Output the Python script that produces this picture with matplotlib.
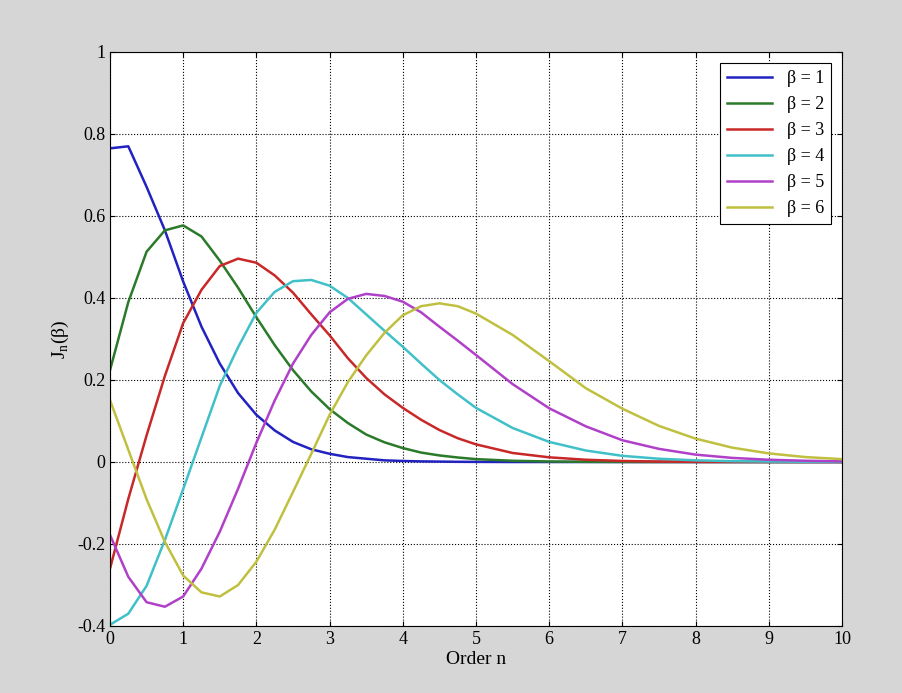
import numpy as np
import matplotlib.pyplot as plt

plt.rcParams['font.family'] = ['Liberation Serif', 'DejaVu Serif']

n = [0, 0.25, 0.5, 0.75, 1, 1.25, 1.5, 1.75, 2, 2.25, 2.5, 2.75, 3, 3.25, 3.5, 3.75, 4, 4.25, 4.5, 4.75, 5,
     5.5, 6, 6.5, 7, 7.5, 8, 8.5, 9, 9.5, 10]
j1 = [0.765, 0.770, 0.671, 0.565, 0.440, 0.330, 0.240, 0.168, 0.115, 0.077, 0.049, 0.031, 0.020, 0.012, 0.008, 0.004, 0.0025, 0.0015, 0.001, 0.0005, 0.0003,
      0, 0, 0, 0, 0, 0, 0, 0, 0, 0]
j2 = [0.224, 0.390, 0.513, 0.565, 0.577, 0.550, 0.491, 0.425, 0.353, 0.285, 0.224, 0.172, 0.129, 0.095, 0.067, 0.048, 0.034, 0.023, 0.016, 0.011, 0.007,
      0.003, 0.0012, 0.0005, 0.0002, 0, 0, 0, 0, 0, 0]
j3 = [-0.260, -0.090, 0.065, 0.210, 0.339, 0.420, 0.478, 0.496, 0.486, 0.455, 0.413, 0.360, 0.309, 0.253, 0.205, 0.165, 0.132, 0.103, 0.078, 0.058, 0.043,
      0.022, 0.0114, 0.0055, 0.0025, 0.001, 0.0004, 0.0002, 0.0001, 0, 0]
j4 = [-0.397, -0.370, -0.302, -0.190, -0.066, 0.060, 0.186, 0.280, 0.364, 0.415, 0.441, 0.444, 0.430, 0.400, 0.360, 0.320, 0.281, 0.240, 0.200, 0.165, 0.132,
      0.083, 0.049, 0.028, 0.015, 0.008, 0.004, 0.002, 0.001, 0.0005, 0.0002]
j5 = [-0.178, -0.280, -0.342, -0.353, -0.328, -0.260, -0.170, -0.065, 0.047, 0.150, 0.240, 0.310, 0.365, 0.398, 0.410, 0.405, 0.391, 0.365, 0.330, 0.296, 0.261,
      0.190, 0.131, 0.087, 0.053, 0.032, 0.018, 0.010, 0.0055, 0.003, 0.0015]
j6 = [0.151, 0.030, -0.091, -0.195, -0.277, -0.318, -0.328, -0.300, -0.243, -0.165, -0.073, 0.020, 0.115, 0.195, 0.260, 0.315, 0.358, 0.380, 0.387, 0.380, 0.362,
      0.310, 0.246, 0.180, 0.130, 0.088, 0.057, 0.035, 0.021, 0.012, 0.007]

series = [j1, j2, j3, j4, j5, j6]
labels = ['β = 1', 'β = 2', 'β = 3', 'β = 4', 'β = 5', 'β = 6']
colors = ['#2222c0', '#2a7a2a', '#c82828', '#40c0c8', '#b040c8', '#c0c040']

fig = plt.figure(figsize=(9.02, 6.93), dpi=100, facecolor='#d6d6d6')
ax = fig.add_axes([110/902, 67/693, 732/902, 574/693])
for y, lab, c in zip(series, labels, colors):
    ax.plot(n, y, color=c, lw=1.8, label=lab)

ax.set_xlim(0, 10)
ax.set_ylim(-0.4, 1)
ax.set_xticks(range(0, 11))
ax.set_yticks([-0.4, -0.2, 0, 0.2, 0.4, 0.6, 0.8, 1])
ax.set_yticklabels(['-0.4', '-0.2', '0', '0.2', '0.4', '0.6', '0.8', '1'])
ax.grid(True, color='black', linestyle=':', linewidth=0.8)
ax.tick_params(direction='in', labelsize=13, top=True, right=True)
ax.set_xlabel('Order n', fontsize=14, labelpad=2)
ax.set_ylabel(r'J$_\mathregular{n}$(β)', fontsize=14)
leg = ax.legend(loc='upper right', fontsize=13, fancybox=False, edgecolor='black',
                framealpha=1, handlelength=2.5, borderaxespad=0.6)
leg.get_frame().set_linewidth(0.8)

fig.savefig('out.png', dpi=100, facecolor=fig.get_facecolor())
